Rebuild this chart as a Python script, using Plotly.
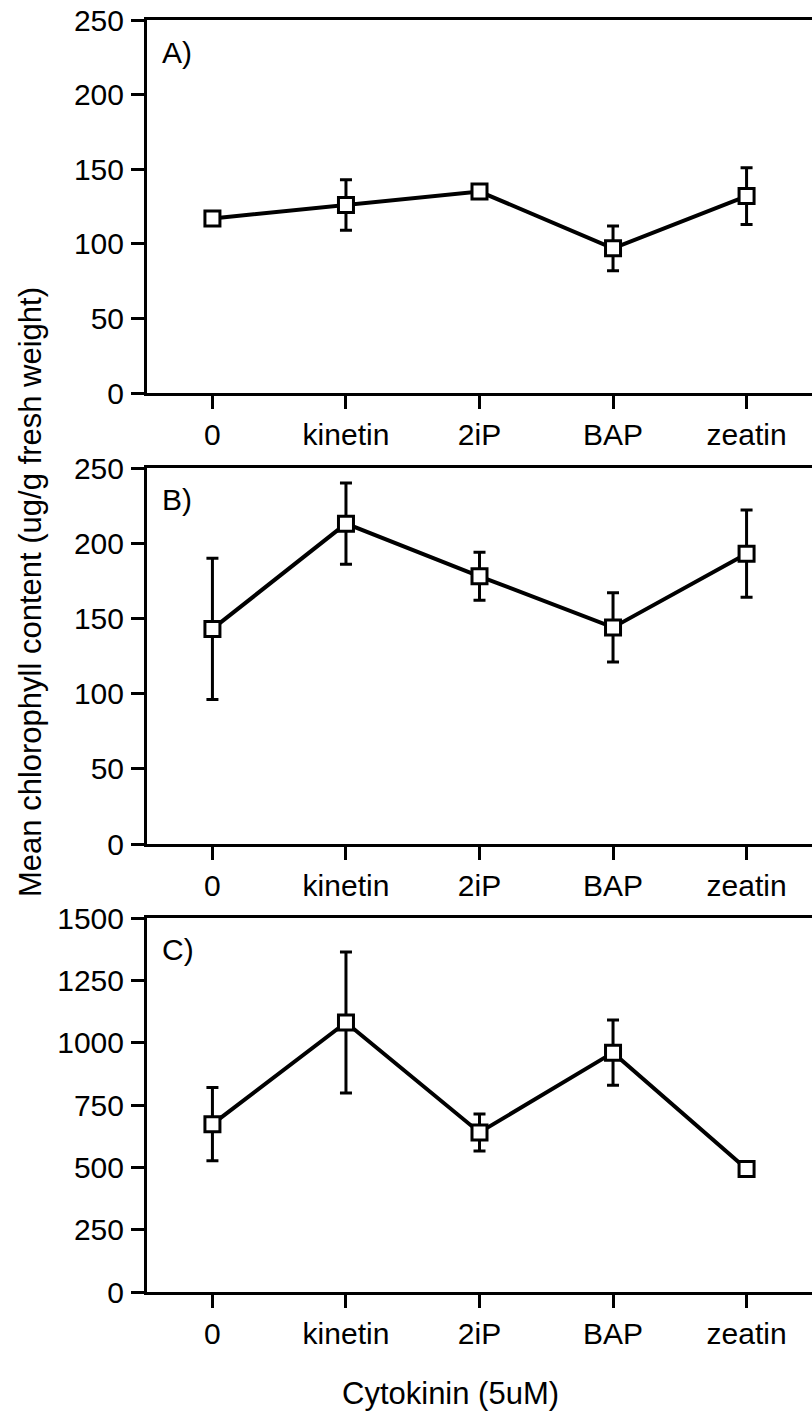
import plotly.graph_objects as go

categories = ["0", "kinetin", "2iP", "BAP", "zeatin"]

a_mean = [117, 126, 135, 97, 132]
a_err = [0, 17, 0, 15, 19]

b_mean = [143, 213, 178, 144, 193]
b_err = [47, 27, 16, 23, 29]

c_mean = [673, 1081, 640, 960, 493]
c_err = [147, 283, 74, 131, 0]

a_ticks = [0, 50, 100, 150, 200, 250]
b_ticks = [0, 50, 100, 150, 200, 250]
c_ticks = [0, 250, 500, 750, 1000, 1250, 1500]

panel_labels = ["A)", "B)", "C)"]
x_title = "Cytokinin (5uM)"
y_title = "Mean chlorophyll content (ug/g fresh weight)"

W, H = 812, 1419
FONT = "Liberation Sans, Arial, Helvetica, sans-serif"

# pixel layout (top, bottom) of each panel
panels_px = [(20, 393), (468, 844), (918, 1292)]
left_px = 147

fig = go.Figure()

series = [(a_mean, a_err, a_ticks), (b_mean, b_err, b_ticks), (c_mean, c_err, c_ticks)]
for i, (mean, err, ticks) in enumerate(series):
    n = i + 1
    xa = "x" if n == 1 else f"x{n}"
    ya = "y" if n == 1 else f"y{n}"
    fig.add_trace(go.Scatter(
        x=categories, y=mean,
        error_y=dict(type="data", array=err, visible=True, color="black",
                     thickness=3, width=6),
        mode="lines+markers",
        line=dict(color="black", width=4),
        marker=dict(symbol="square", size=15, color="white",
                    line=dict(color="black", width=3)),
        xaxis=xa, yaxis=ya, showlegend=False,
    ))
    top, bot = panels_px[i]
    dom = [1 - bot / H, 1 - top / H]
    axis_common = dict(showline=True, linecolor="black", linewidth=3,
                       ticks="outside", ticklen=13, tickwidth=2.5, tickcolor="black",
                       showgrid=False, zeroline=False, automargin=False,
                       tickfont=dict(family=FONT, size=30, color="black"))
    fig.update_layout(**{
        ("xaxis" if n == 1 else f"xaxis{n}"): dict(
            domain=[left_px / W, 1], anchor=ya, type="category",
            categoryorder="array", categoryarray=categories,
            range=[-0.49, 4.49], mirror=True, ticklabelstandoff=0, **axis_common),
        ("yaxis" if n == 1 else f"yaxis{n}"): dict(
            domain=dom, anchor=xa, range=[0, ticks[-1]], tickvals=ticks,
            ticklabelstandoff=1, **axis_common),
    })
    fig.add_annotation(text=panel_labels[i], xref="paper", yref="paper",
                       x=160 / W, y=1 - (top + 32) / H, xanchor="left", yanchor="middle",
                       showarrow=False, font=dict(family=FONT, size=30, color="black"))

fig.add_annotation(text=x_title, xref="paper", yref="paper",
                   x=450 / W, y=1 - 1393 / H, xanchor="center", yanchor="middle",
                   showarrow=False, font=dict(family=FONT, size=31, color="black"))
fig.add_annotation(text=y_title, xref="paper", yref="paper", textangle=-90,
                   x=30 / W, y=1 - 592 / H, xanchor="center", yanchor="middle",
                   showarrow=False, font=dict(family=FONT, size=31, color="black"))

fig.update_layout(width=W, height=H, margin=dict(l=0, r=0, t=0, b=0, autoexpand=False),
                  plot_bgcolor="white", paper_bgcolor="white")

fig.write_html("out.html")
